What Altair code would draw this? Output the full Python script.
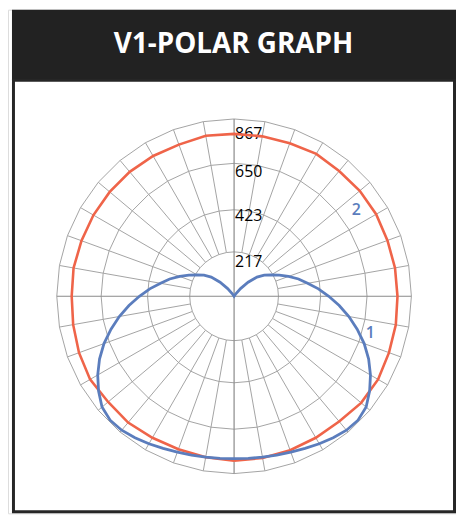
import altair as alt
import pandas as pd

# ---------------- data ----------------
TITLE = "V1-POLAR GRAPH"
RING_VALUES = [217, 423, 650, 867]
RING_LABELS = ["217", "423", "650", "867"]

# angles measured from straight down (0) through the right side (90) to up (180)
BLUE_ANGLES = list(range(0, 365, 5))
BLUE_VALUES = [794, 796, 799, 804, 811, 821, 833, 845, 855, 857, 843, 809, 770, 726, 677,
               623, 570, 516, 463, 414, 365, 326, 283, 244, 209, 180, 146, 97, 49, 15,
               0, 0, 0, 0, 0, 0, 0, 0, 0, 0, 0, 0, 0, 15, 49, 97, 146, 180, 209, 244,
               283, 326, 365, 414, 463, 516, 570, 623, 677, 726, 770, 809, 843, 857, 855,
               845, 833, 821, 811, 804, 799, 796, 794]

RED_ANGLES = list(range(0, 370, 10))
RED_VALUES = [804, 803, 801, 799, 799, 811, 813, 806, 803, 799, 799, 798, 802, 802, 799,
              804, 796, 794, 794, 797, 789, 792, 794, 794, 794, 794, 797, 794, 799, 807,
              813, 804, 806, 799, 796, 799, 804]

SERIES_LABELS = ["2", "1"]
SERIES_LABEL_ANGLES = [123.6, 72.8]
SERIES_LABEL_RADII = [718, 697]

GRID_ANGLES = list(range(0, 360, 10))

# ---------------- layout ----------------
W, H = 451, 507
CX, CY = 227.6, 288.5          # polar centre inside the chart (px)
R_PX = 178.5                   # radius of outer ring (px)
K = RING_VALUES[-1] / R_PX     # data units per pixel
XDOM = [-CX * K, (W - CX) * K]
YDOM = [-(H - CY) * K, CY * K]

RED = "#EF6449"
BLUE = "#5B7DBD"
GRID = "#a3a3a3"
AXIS = "#8a8a8a"
FONT = "Open Sans"

xs = alt.Scale(domain=XDOM, nice=False, zero=False)
ys = alt.Scale(domain=YDOM, nice=False, zero=False)

polar = dict(
    x="datum.r * sin(datum.a * PI / 180)",
    y="-datum.r * cos(datum.a * PI / 180)",
)


def X(f="x"):
    return alt.X(f"{f}:Q", scale=xs, axis=None)


def Y(f="y"):
    return alt.Y(f"{f}:Q", scale=ys, axis=None)


one = pd.DataFrame({"d": [0]})

header = alt.Chart(one).mark_rect(color="#222222").encode(
    x=alt.value(4), x2=alt.value(W), y=alt.value(0), y2=alt.value(71)
)
border = alt.Chart(one).mark_rect(filled=False, stroke="#262626", strokeWidth=3).encode(
    x=alt.value(5.5), x2=alt.value(449.5), y=alt.value(71), y2=alt.value(505.5)
)
title = alt.Chart(one).mark_text(
    text=TITLE, font=FONT, fontSize=28, fontWeight="bold", color="white",
    align="center", baseline="alphabetic"
).encode(x=alt.value(227), y=alt.value(43.7))

# rings
ring_df = pd.DataFrame(
    [{"ring": v, "a": a, "r": v, "i": i}
     for v in RING_VALUES for i, a in enumerate(list(range(0, 370, 10)))]
)
rings = alt.Chart(ring_df).transform_calculate(**polar).mark_line(
    color=GRID, strokeWidth=1
).encode(x=X(), y=Y(), detail="ring:N", order="i:Q")

# spokes
spoke_df = pd.DataFrame({"a": [a for a in GRID_ANGLES if a % 90 != 0]})
spokes = alt.Chart(spoke_df).transform_calculate(
    x="217 * sin(datum.a * PI / 180)", y="-217 * cos(datum.a * PI / 180)",
    x2="867 * sin(datum.a * PI / 180)", y2="-867 * cos(datum.a * PI / 180)",
).mark_rule(color=GRID, strokeWidth=1).encode(x=X(), y=Y(), x2="x2:Q", y2="y2:Q")

axis_df = pd.DataFrame({"a": [0, 90, 180, 270]})
axes = alt.Chart(axis_df).transform_calculate(
    x2="867 * sin(datum.a * PI / 180)", y2="-867 * cos(datum.a * PI / 180)",
    x="0", y="0",
).mark_rule(color=AXIS, strokeWidth=1.2).encode(x=X(), y=Y(), x2="x2:Q", y2="y2:Q")

# ring labels
label_dy = {217: 15.5, 423: 11.6, 650: 13.8, 867: 20}
ring_labels = []
for v, t in zip(RING_VALUES, RING_LABELS):
    df = pd.DataFrame({"r": [v], "a": [180], "t": [t]})
    ring_labels.append(
        alt.Chart(df).transform_calculate(**polar).mark_text(
            font=FONT, fontSize=16, color="#000000", align="left",
            baseline="alphabetic", dx=1, dy=label_dy[v]
        ).encode(x=X(), y=Y(), text="t:N")
    )

# series
red_df = pd.DataFrame({"a": RED_ANGLES, "r": RED_VALUES, "i": range(len(RED_ANGLES))})
blue_df = pd.DataFrame({"a": BLUE_ANGLES, "r": BLUE_VALUES, "i": range(len(BLUE_ANGLES))})

red_line = alt.Chart(red_df).transform_calculate(**polar).mark_line(
    color=RED, strokeWidth=2.6
).encode(x=X(), y=Y(), order="i:Q")
blue_line = alt.Chart(blue_df).transform_calculate(**polar).mark_line(
    color=BLUE, strokeWidth=2.8
).encode(x=X(), y=Y(), order="i:Q")

lab_df = pd.DataFrame({"t": SERIES_LABELS, "a": SERIES_LABEL_ANGLES, "r": SERIES_LABEL_RADII})
series_labels = alt.Chart(lab_df).transform_calculate(**polar).mark_text(
    font=FONT, fontSize=16, fontWeight=600, color=BLUE, align="center", baseline="alphabetic"
).encode(x=X(), y=Y(), text="t:N")

chart = alt.layer(
    header, border, title, rings, spokes, axes, *ring_labels, red_line, blue_line, series_labels
).properties(
    width=W, height=H, autosize=alt.AutoSizeParams(type="none"), padding=0
).configure_view(stroke=None).configure(background="white")

chart.save("out.html", embed_options={"renderer": "svg", "actions": False})
